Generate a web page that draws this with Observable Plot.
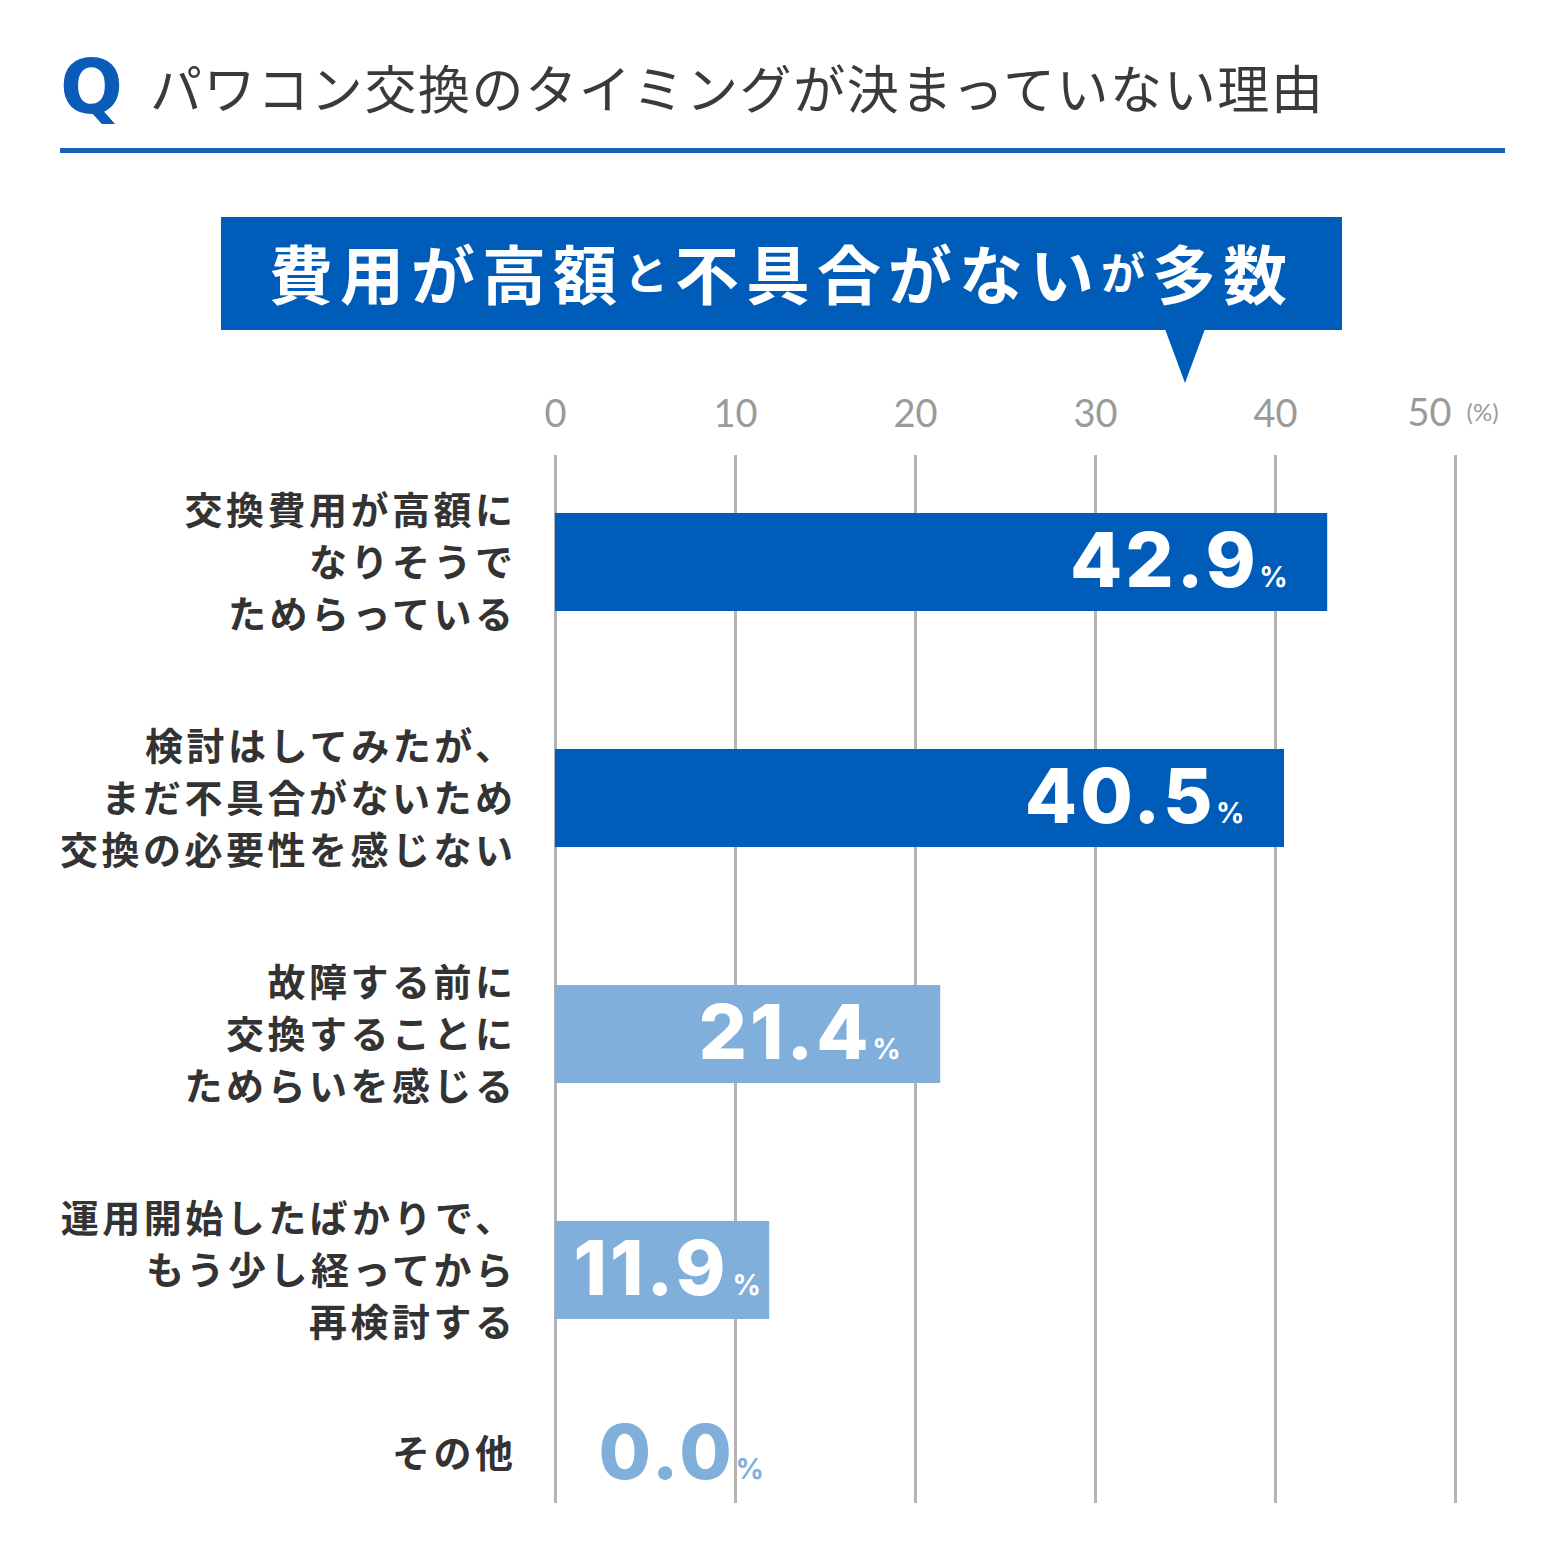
<!DOCTYPE html>
<html>
<head>
<meta charset="utf-8">
<script src="https://cdn.jsdelivr.net/npm/d3@7"></script>
<script src="https://cdn.jsdelivr.net/npm/@observablehq/plot@0.6"></script>
<style>
  html, body { margin: 0; padding: 0; background: #fff; }
  #wrap { position: relative; width: 1562px; height: 1560px; overflow: hidden; }
  #chart { position: absolute; left: 0; top: 0; }
  .q { position: absolute; left: 60px; top: 48px; height: 78px; display: flex; align-items: center;
       font-family: "DejaVu Sans", sans-serif; font-weight: 700; font-size: 74px; color: #0a5cb8; }
  .title { position: absolute; left: 150px; top: 54px; height: 64px; display: flex; align-items: center;
       font-family: "Noto Sans CJK JP", sans-serif; font-weight: 400; font-size: 52px; letter-spacing: 1.6px; color: #3a3a3a; }
  .rule { position: absolute; left: 60px; top: 148px; width: 1445px; height: 5px; background: #1a62b8; }
  .callout { position: absolute; left: 221px; top: 217px; width: 1121px; height: 107px; padding-bottom: 6px; background: #005cb9;
       display: flex; align-items: center; justify-content: center;
       font-family: "Noto Sans CJK JP", sans-serif; font-weight: 700; font-size: 64px; letter-spacing: 7px; color: #fff; }
  .callout .sm { font-size: 44px; }
  .pointer { position: absolute; left: 1165px; top: 329px; width: 0; height: 0;
       border-left: 20px solid transparent; border-right: 20px solid transparent; border-top: 54px solid #005cb9; }
  g[font-family^="Noto Sans CJK JP"] text { letter-spacing: 3.5px; }
  g[font-family^="Inter"] text { letter-spacing: 3px; }
</style>
</head>
<body>
<div id="wrap">
  <div id="chart"></div>
  <div class="q">Q</div>
  <div class="title">パワコン交換のタイミングが決まっていない理由</div>
  <div class="rule"></div>
  <div class="callout">費用が高額<span class="sm">と</span>不具合がない<span class="sm">が</span>多数</div>
  <div class="pointer"></div>
</div>
<script>
// ---- data ----
const categories = [
  "交換費用が高額に\nなりそうで\nためらっている",
  "検討はしてみたが、\nまだ不具合がないため\n交換の必要性を感じない",
  "故障する前に\n交換することに\nためらいを感じる",
  "運用開始したばかりで、\nもう少し経ってから\n再検討する",
  "その他"
];
const values = [42.9, 40.5, 21.4, 11.9, 0.0];
const tiers = ["上位", "上位", "その他", "その他", "その他"];
const xTicks = [0, 10, 20, 30, 40, 50];
const unitLabel = "(%)";

const DARK = "#005cb9";
const LIGHT = "#80afdc";

const rows = categories.map((c, i) => ({cat: c, value: values[i], tier: tiers[i]}));
const fmt = d => d.value.toFixed(1);
const NUMFONT = "Inter, sans-serif";
const AXFONT = "Lato, sans-serif";
const CJK = "Noto Sans CJK JP, sans-serif";

const big = d => d.value >= 15;
const small = d => d.value > 0 && d.value < 15;
const zero = d => d.value === 0;
const lastTick = xTicks[xTicks.length - 1];
const innerTicks = xTicks.slice(0, -1);

const chart = Plot.plot({
  width: 1562,
  height: 1560,
  marginLeft: 555,
  marginRight: 107,
  marginTop: 455,
  marginBottom: 57,
  x: {domain: [0, lastTick], axis: null},
  y: {domain: categories, range: [373.4, 1694.4], padding: 0.586, axis: null},
  color: {domain: ["上位", "その他"], range: [DARK, LIGHT]},
  marks: [
    Plot.ruleX(xTicks, {stroke: "#b3b3b3", strokeWidth: 3}),
    Plot.axisX(innerTicks, {anchor: "top", label: null, tickSize: 0, tickPadding: 29, fontSize: 38,
      fontFamily: AXFONT, color: "#9a9a9a", tickFormat: d => String(d)}),
    Plot.text([lastTick], {x: d => d, frameAnchor: "top", lineAnchor: "middle", text: d => String(d), dx: -4, dy: -42,
      textAnchor: "end", fontSize: 38, fill: "#9a9a9a", fontFamily: AXFONT}),
    Plot.text([lastTick], {x: d => d, frameAnchor: "top", lineAnchor: "middle", text: () => unitLabel, dx: 11, dy: -42,
      textAnchor: "start", fontSize: 24, fill: "#9a9a9a", fontFamily: AXFONT}),
    Plot.barX(rows, {x: "value", y: "cat", fill: "tier"}),
    // category labels
    Plot.text(rows, {filter: d => !zero(d), x: () => 0, y: "cat", text: "cat", textAnchor: "end", dx: -39, dy: -3,
      fontSize: 38, fontWeight: 700, lineHeight: 1.37, fill: "#333", fontFamily: CJK}),
    Plot.text(rows, {filter: zero, x: () => 0, y: "cat", text: "cat", textAnchor: "end", dx: -39, dy: -52,
      fontSize: 38, fontWeight: 700, fill: "#333", fontFamily: CJK}),
    // value labels, large bars
    Plot.text(rows, {filter: big, x: "value", y: "cat", text: fmt, textAnchor: "end", dx: -69,
      fontSize: 76, fontWeight: 800, fill: "#fff", fontFamily: NUMFONT}),
    Plot.text(rows, {filter: big, x: "value", y: "cat", text: () => "%", textAnchor: "end", dx: -37, dy: 16,
      fontSize: 28, fontWeight: 700, fill: "#fff", fontFamily: NUMFONT}),
    // short bar
    Plot.text(rows, {filter: small, x: () => 0, y: "cat", text: fmt, textAnchor: "start", dx: 18,
      fontSize: 76, fontWeight: 800, fill: "#fff", fontFamily: NUMFONT}),
    Plot.text(rows, {filter: small, x: () => 0, y: "cat", text: () => "%", textAnchor: "start", dx: 177, dy: 16,
      fontSize: 28, fontWeight: 700, fill: "#fff", fontFamily: NUMFONT}),
    // zero value
    Plot.text(rows, {filter: zero, x: "value", y: "cat", text: fmt, textAnchor: "start", dx: 43, dy: -52,
      fontSize: 76, fontWeight: 800, fill: LIGHT, fontFamily: NUMFONT}),
    Plot.text(rows, {filter: zero, x: "value", y: "cat", text: () => "%", textAnchor: "start", dx: 180, dy: -36,
      fontSize: 28, fontWeight: 700, fill: LIGHT, fontFamily: NUMFONT})
  ]
});
document.getElementById("chart").appendChild(chart);
</script>
</body>
</html>
